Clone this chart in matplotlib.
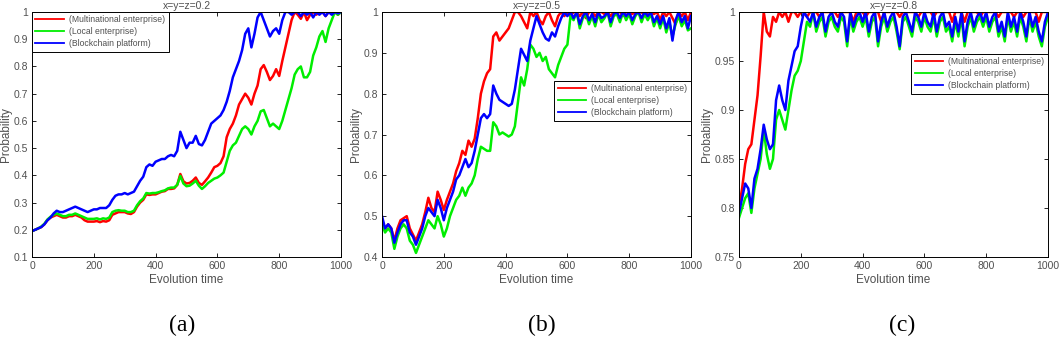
import matplotlib.pyplot as plt
from matplotlib.ticker import FuncFormatter

plt.rcParams["font.family"] = ["Liberation Sans", "DejaVu Sans"]

# evolution time axis (every 10 steps)
t = list(range(0, 1001, 10))

# (a) x=y=z=0.2
a_multi = [0.195, 0.200, 0.205, 0.210, 0.220, 0.235, 0.245, 0.250, 0.255, 0.250,
           0.245, 0.245, 0.250, 0.250, 0.255, 0.250, 0.245, 0.235, 0.230, 0.230,
           0.230, 0.232, 0.228, 0.232, 0.230, 0.235, 0.255, 0.260, 0.265, 0.265,
           0.265, 0.260, 0.258, 0.265, 0.285, 0.300, 0.310, 0.330, 0.328, 0.330,
           0.330, 0.335, 0.340, 0.342, 0.350, 0.350, 0.352, 0.365, 0.405, 0.378,
           0.370, 0.372, 0.380, 0.392, 0.372, 0.365, 0.378, 0.392, 0.410, 0.430,
           0.435, 0.445, 0.470, 0.540, 0.570, 0.590, 0.620, 0.660, 0.680, 0.700,
           0.685, 0.660, 0.700, 0.730, 0.790, 0.805, 0.780, 0.750, 0.765, 0.790,
           0.765, 0.820, 0.870, 0.920, 0.970, 1.000, 0.990, 0.975, 1.000, 0.970,
           0.990, 1.000, 0.990, 1.000, 1.000, 0.985, 1.000, 0.995, 1.000, 0.990, 1.000]
a_local = [0.195, 0.200, 0.205, 0.212, 0.222, 0.238, 0.248, 0.255, 0.260, 0.255,
           0.250, 0.250, 0.255, 0.255, 0.260, 0.255, 0.250, 0.245, 0.240, 0.240,
           0.240, 0.242, 0.238, 0.242, 0.240, 0.245, 0.265, 0.270, 0.272, 0.270,
           0.270, 0.265, 0.265, 0.270, 0.290, 0.305, 0.315, 0.335, 0.333, 0.335,
           0.335, 0.338, 0.342, 0.345, 0.352, 0.355, 0.355, 0.365, 0.398, 0.370,
           0.360, 0.362, 0.370, 0.380, 0.362, 0.350, 0.360, 0.372, 0.380, 0.388,
           0.392, 0.400, 0.410, 0.450, 0.490, 0.510, 0.520, 0.545, 0.570, 0.580,
           0.570, 0.550, 0.580, 0.600, 0.635, 0.640, 0.610, 0.580, 0.590, 0.580,
           0.570, 0.600, 0.640, 0.680, 0.720, 0.770, 0.790, 0.800, 0.760, 0.760,
           0.780, 0.840, 0.870, 0.910, 0.930, 0.890, 0.940, 0.970, 1.000, 0.990, 1.000]
a_chain = [0.195, 0.200, 0.205, 0.210, 0.220, 0.235, 0.245, 0.260, 0.270, 0.265,
           0.265, 0.270, 0.275, 0.280, 0.285, 0.280, 0.275, 0.270, 0.265, 0.270,
           0.275, 0.275, 0.280, 0.280, 0.280, 0.290, 0.310, 0.325, 0.330, 0.330,
           0.335, 0.330, 0.335, 0.340, 0.360, 0.380, 0.395, 0.430, 0.440, 0.435,
           0.450, 0.455, 0.460, 0.460, 0.470, 0.475, 0.470, 0.490, 0.560, 0.530,
           0.500, 0.520, 0.520, 0.545, 0.515, 0.510, 0.530, 0.560, 0.590, 0.600,
           0.610, 0.620, 0.640, 0.670, 0.710, 0.760, 0.790, 0.820, 0.860, 0.920,
           0.940, 0.870, 0.920, 0.980, 1.000, 0.970, 0.940, 0.910, 0.930, 0.940,
           0.920, 0.970, 1.000, 1.000, 0.990, 1.000, 1.000, 0.985, 1.000, 0.990,
           1.000, 0.980, 1.000, 0.990, 1.000, 0.985, 1.000, 0.990, 1.000, 0.995, 1.000]

# (b) x=y=z=0.5
b_multi = [0.490, 0.470, 0.480, 0.470, 0.440, 0.470, 0.490, 0.495, 0.500, 0.470,
           0.455, 0.440, 0.460, 0.480, 0.510, 0.545, 0.520, 0.510, 0.560, 0.540,
           0.515, 0.540, 0.560, 0.580, 0.610, 0.630, 0.660, 0.650, 0.685, 0.670,
           0.690, 0.740, 0.800, 0.830, 0.850, 0.860, 0.940, 0.950, 0.930, 0.940,
           0.950, 0.960, 0.980, 1.000, 1.000, 0.990, 0.975, 0.960, 1.000, 0.990,
           1.000, 0.980, 0.970, 0.990, 1.000, 0.980, 0.965, 0.990, 1.000, 0.990,
           1.000, 0.990, 1.000, 1.000, 0.990, 1.000, 0.985, 1.000, 1.000, 0.990,
           1.000, 1.000, 0.995, 1.000, 0.990, 1.000, 1.000, 1.000, 0.990, 1.000,
           1.000, 0.995, 1.000, 1.000, 1.000, 0.990, 1.000, 1.000, 0.995, 1.000,
           0.980, 1.000, 0.990, 1.000, 0.985, 0.970, 1.000, 0.990, 1.000, 0.980, 1.000]
b_local = [0.480, 0.460, 0.470, 0.460, 0.420, 0.450, 0.470, 0.480, 0.470, 0.440,
           0.430, 0.410, 0.430, 0.450, 0.470, 0.490, 0.480, 0.470, 0.500, 0.480,
           0.450, 0.470, 0.500, 0.520, 0.540, 0.550, 0.570, 0.550, 0.570, 0.580,
           0.600, 0.640, 0.670, 0.665, 0.660, 0.660, 0.730, 0.720, 0.700, 0.705,
           0.700, 0.695, 0.700, 0.720, 0.780, 0.840, 0.820, 0.860, 0.920, 0.910,
           0.890, 0.900, 0.880, 0.890, 0.860, 0.850, 0.840, 0.870, 0.890, 0.910,
           0.920, 0.990, 0.980, 1.000, 0.960, 0.985, 0.995, 0.970, 0.990, 0.965,
           0.995, 0.975, 0.985, 1.000, 0.965, 0.990, 0.995, 0.975, 1.000, 0.980,
           0.995, 0.970, 0.990, 1.000, 0.975, 0.995, 0.980, 0.995, 0.965, 0.985,
           0.960, 0.985, 0.950, 0.975, 0.940, 0.970, 0.990, 0.965, 0.980, 0.955, 0.960]
b_chain = [0.500, 0.470, 0.480, 0.470, 0.435, 0.460, 0.480, 0.490, 0.490, 0.460,
           0.450, 0.430, 0.450, 0.470, 0.500, 0.520, 0.510, 0.500, 0.540, 0.520,
           0.490, 0.520, 0.540, 0.560, 0.590, 0.600, 0.620, 0.640, 0.620, 0.630,
           0.660, 0.700, 0.740, 0.750, 0.740, 0.750, 0.820, 0.800, 0.785, 0.780,
           0.775, 0.770, 0.775, 0.810, 0.860, 0.910, 0.895, 0.880, 0.930, 0.960,
           0.990, 0.970, 0.950, 0.935, 0.930, 0.950, 0.940, 0.965, 0.985, 1.000,
           0.990, 1.000, 0.985, 1.000, 0.970, 0.990, 1.000, 0.980, 0.995, 0.975,
           1.000, 0.985, 0.990, 1.000, 0.975, 0.995, 1.000, 0.985, 1.000, 0.990,
           1.000, 0.980, 0.995, 1.000, 0.985, 1.000, 0.990, 1.000, 0.975, 0.990,
           0.970, 0.990, 0.960, 0.985, 0.930, 0.980, 1.000, 0.975, 0.990, 0.960, 0.990]

# (c) x=y=z=0.8
c_multi = [0.800, 0.820, 0.845, 0.860, 0.865, 0.890, 0.915, 0.955, 1.000, 0.980,
           0.975, 0.995, 0.990, 1.000, 0.995, 1.000, 0.990, 1.000, 1.000, 0.995,
           1.000, 1.000, 0.995, 1.000, 1.000, 1.000, 0.995, 1.000, 1.000, 1.000,
           1.000, 1.000, 0.995, 1.000, 1.000, 1.000, 1.000, 0.990, 1.000, 1.000,
           1.000, 0.995, 1.000, 1.000, 1.000, 1.000, 0.990, 1.000, 1.000, 1.000,
           1.000, 1.000, 0.995, 1.000, 1.000, 1.000, 1.000, 1.000, 0.995, 1.000,
           1.000, 1.000, 1.000, 0.995, 1.000, 1.000, 1.000, 1.000, 1.000, 0.990,
           1.000, 1.000, 1.000, 0.990, 1.000, 1.000, 1.000, 1.000, 0.995, 1.000,
           1.000, 1.000, 1.000, 1.000, 0.995, 1.000, 1.000, 1.000, 1.000, 0.995,
           1.000, 1.000, 0.995, 1.000, 1.000, 1.000, 1.000, 0.990, 1.000, 1.000, 1.000]
c_local = [0.790, 0.800, 0.810, 0.815, 0.795, 0.820, 0.835, 0.850, 0.880, 0.855,
           0.840, 0.850, 0.890, 0.900, 0.890, 0.880, 0.900, 0.920, 0.935, 0.940,
           0.950, 0.970, 0.990, 0.985, 1.000, 0.980, 0.990, 0.995, 0.975, 0.990,
           0.995, 0.985, 0.980, 0.995, 0.990, 0.965, 0.995, 0.980, 0.990, 0.995,
           0.985, 0.995, 0.975, 0.990, 0.995, 0.965, 0.985, 0.995, 0.980, 0.990,
           0.995, 0.980, 0.962, 0.990, 0.995, 0.985, 0.975, 0.995, 0.990, 0.980,
           0.995, 0.985, 0.980, 0.995, 0.975, 0.990, 0.995, 0.980, 0.985, 0.970,
           0.990, 0.975, 0.995, 0.965, 0.985, 0.995, 0.980, 0.990, 0.995, 0.985,
           0.995, 0.980, 0.990, 0.995, 0.975, 0.985, 0.970, 0.995, 0.980, 0.990,
           0.975, 0.995, 0.985, 0.970, 0.995, 0.980, 0.990, 0.975, 0.965, 0.985, 0.995]
c_chain = [0.795, 0.810, 0.825, 0.820, 0.800, 0.830, 0.840, 0.860, 0.885, 0.870,
           0.860, 0.865, 0.910, 0.925, 0.910, 0.900, 0.930, 0.945, 0.960, 0.965,
           0.985, 1.000, 0.995, 0.990, 1.000, 0.985, 0.995, 1.000, 0.980, 0.995,
           1.000, 0.990, 0.985, 1.000, 0.995, 0.970, 1.000, 0.985, 0.995, 1.000,
           0.990, 1.000, 0.980, 0.995, 1.000, 0.970, 0.990, 1.000, 0.985, 0.995,
           1.000, 0.985, 0.965, 0.995, 1.000, 0.990, 0.980, 1.000, 0.995, 0.985,
           1.000, 0.990, 0.985, 1.000, 0.980, 0.995, 1.000, 0.985, 0.990, 0.975,
           0.995, 0.980, 1.000, 0.970, 0.990, 1.000, 0.985, 0.995, 1.000, 0.990,
           1.000, 0.985, 0.995, 1.000, 0.980, 0.990, 0.975, 1.000, 0.985, 0.995,
           0.980, 1.000, 0.990, 0.975, 1.000, 0.985, 0.995, 0.980, 0.970, 0.990, 1.000]

titles = ["x=y=z=0.2", "x=y=z=0.5", "x=y=z=0.8"]
panel_tags = ["(a)", "(b)", "(c)"]
names = ["(Multinational enterprise)", "(Local enterprise)", "(Blockchain platform)"]
ylims = [(0.1, 1.0), (0.4, 1.0), (0.75, 1.0)]
yticks = [[0.1, 0.2, 0.3, 0.4, 0.5, 0.6, 0.7, 0.8, 0.9, 1.0],
          [0.4, 0.5, 0.6, 0.7, 0.8, 0.9, 1.0],
          [0.75, 0.8, 0.85, 0.9, 0.95, 1.0]]
series = [(a_multi, a_local, a_chain), (b_multi, b_local, b_chain), (c_multi, c_local, c_chain)]

colors = ["#ff0000", "#00ee00", "#0000ff"]
txt = "#505050"

fig = plt.figure(figsize=(10.59, 3.6), dpi=100)
lefts = [32 / 1059, 382 / 1059, 739 / 1059]
legend_pos = [("upper left", (0.0, 1.0)), ("upper right", (1.0, 0.72)), ("upper right", (1.0, 0.83))]
tag_x = [0.172, 0.512, 0.852]

for i in range(3):
    ax = fig.add_axes([lefts[i], 1 - 257 / 360, 309 / 1059, 245 / 360])
    for ys, c, n in zip(series[i], colors, names):
        ax.plot(t, ys, color=c, lw=1.8, label=n)
    ax.set_xlim(0, 1000)
    ax.set_ylim(*ylims[i])
    ax.set_xticks([0, 200, 400, 600, 800, 1000])
    ax.set_yticks(yticks[i])
    ax.yaxis.set_major_formatter(FuncFormatter(lambda v, p: f"{v:g}"))
    ax.tick_params(direction="in", top=True, right=True, length=3, width=0.6,
                   labelsize=7.5, labelcolor=txt, pad=3)
    for sp in ax.spines.values():
        sp.set_linewidth(0.7)
    ax.set_title(titles[i], fontsize=7.5, color=txt, pad=2)
    ax.set_xlabel("Evolution time", fontsize=8.5, color=txt, labelpad=2)
    ax.set_ylabel("Probability", fontsize=8.5, color=txt, labelpad=1)
    loc, anchor = legend_pos[i]
    leg = ax.legend(loc=loc, bbox_to_anchor=anchor, fancybox=False, fontsize=6.2,
                    edgecolor="black", framealpha=1, handlelength=3.3,
                    borderpad=0.4, labelspacing=0.35, handletextpad=0.6,
                    borderaxespad=0)
    leg.get_frame().set_linewidth(0.7)
    for ln in leg.get_lines():
        ln.set_linewidth(1.3)
    for tx in leg.get_texts():
        tx.set_color(txt)
    fig.text(tag_x[i], 0.095, panel_tags[i], ha="center", va="center",
             fontsize=17, family="Liberation Serif")

fig.savefig("out.png", dpi=100)
